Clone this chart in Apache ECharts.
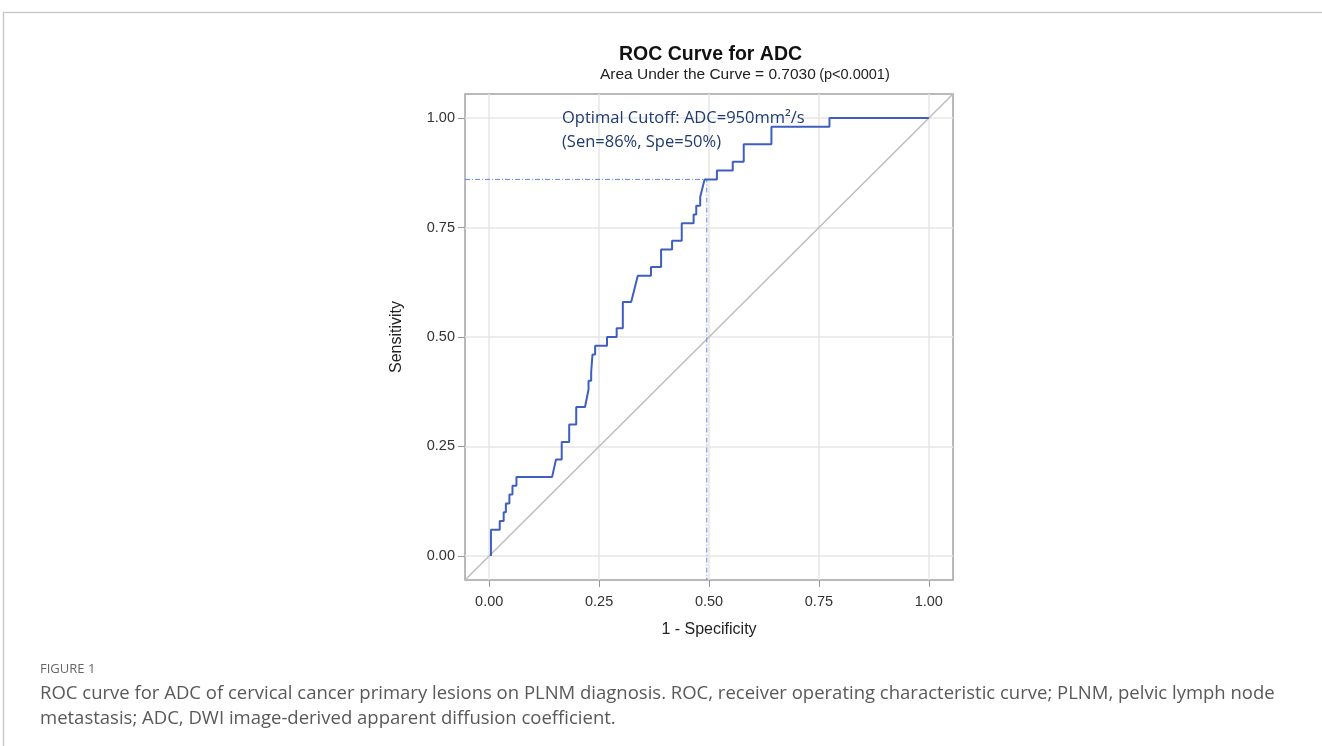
<!DOCTYPE html>
<html>
<head>
<meta charset="utf-8">
<script src="https://cdn.jsdelivr.net/npm/echarts@6/dist/echarts.min.js"></script>
<style>
  html, body { margin: 0; padding: 0; background: #fff; }
  #chart { width: 1322px; height: 746px; }
</style>
</head>
<body>
<div id="chart"></div>
<script>
// 坐标刻度
var tickValues = [0, 0.25, 0.5, 0.75, 1];
var axisMin = -0.055, axisMax = 1.055;

// ROC 曲线顶点 [1 - Specificity, Sensitivity]
var rocPoints = [
    [0.004, 0], [0.004, 0.06], [0.024, 0.06], [0.024, 0.08], [0.033, 0.08], [0.033, 0.10],
    [0.038, 0.10], [0.038, 0.12], [0.046, 0.12], [0.046, 0.14], [0.053, 0.14], [0.053, 0.16],
    [0.062, 0.16], [0.062, 0.18], [0.143, 0.18], [0.152, 0.22], [0.165, 0.22], [0.165, 0.26],
    [0.182, 0.26], [0.182, 0.30], [0.198, 0.30], [0.198, 0.34], [0.218, 0.34], [0.226, 0.38],
    [0.226, 0.40], [0.232, 0.40], [0.232, 0.42], [0.235, 0.42], [0.235, 0.46], [0.241, 0.46],
    [0.241, 0.48], [0.268, 0.48], [0.268, 0.50], [0.290, 0.50], [0.290, 0.52], [0.304, 0.52],
    [0.304, 0.58], [0.323, 0.58], [0.338, 0.64], [0.368, 0.64], [0.368, 0.66], [0.391, 0.66],
    [0.391, 0.70], [0.416, 0.70], [0.416, 0.72], [0.438, 0.72], [0.438, 0.76], [0.465, 0.76],
    [0.465, 0.78], [0.471, 0.78], [0.471, 0.80], [0.480, 0.80], [0.480, 0.82], [0.484, 0.82],
    [0.490, 0.86], [0.518, 0.86], [0.518, 0.88], [0.554, 0.88], [0.554, 0.90], [0.579, 0.90],
    [0.579, 0.94], [0.642, 0.94], [0.642, 0.98], [0.774, 0.98], [0.774, 1.00], [1.000, 1.00]
];

// 参考对角线
var diagonal = [[axisMin, axisMin], [axisMax, axisMax]];

// 最佳截断点
var cutoff = [0.495, 0.86];
var cutoffText = ['Optimal Cutoff: ADC=950mm²/s', '(Sen=86%, Spe=50%)'];

var titleText = 'ROC Curve for ADC';
var subText = 'Area Under the Curve = 0.7030';
var subTextP = '(p<0.0001)';
var captionHead = 'FIGURE 1';
var captionLines = [
    'ROC curve for ADC of cervical cancer primary lesions on PLNM diagnosis. ROC, receiver operating characteristic curve; PLNM, pelvic lymph node',
    'metastasis; ADC, DWI image-derived apparent diffusion coefficient.'
];

var font = 'Arial, "Liberation Sans", sans-serif';

function axisCommon(name) {
    return {
        type: 'value',
        min: axisMin,
        max: axisMax,
        name: name,
        nameLocation: 'middle',
        nameTextStyle: { fontFamily: font, fontSize: 16, color: '#222' },
        axisLine: { show: false, onZero: false },
        axisTick: { show: true, customValues: tickValues, length: 7, lineStyle: { color: '#999' } },
        axisLabel: {
            customValues: tickValues,
            fontFamily: font, fontSize: 14.5, color: '#333',
            formatter: function (v) { return v.toFixed(2); }
        },
        splitLine: { show: true, lineStyle: { color: '#e6e6e6', width: 1.5 } }
    };
}

var chart = echarts.init(document.getElementById('chart'));

var xAxis = axisCommon('1 - Specificity');
xAxis.nameGap = 42;
xAxis.axisLabel.margin = 14;
var yAxis = axisCommon('Sensitivity');
yAxis.nameGap = 60;
yAxis.axisLabel.margin = 10;

var option = {
    animation: false,
    backgroundColor: '#fff',
    grid: {
        left: 465, right: 369, top: 94, bottom: 166,
        show: true, borderColor: '#a3a3a3', borderWidth: 1.5
    },
    xAxis: xAxis,
    yAxis: yAxis,
    series: [
        {
            type: 'line',
            data: diagonal,
            symbol: 'none',
            lineStyle: { color: '#bdbdbd', width: 1.5 },
            z: 2
        },
        {
            type: 'line',
            data: [[axisMin, cutoff[1]], cutoff, [cutoff[0], axisMin]],
            symbol: 'none',
            lineStyle: { color: '#5f88d6', width: 1, type: [5, 2, 1, 2] },
            z: 3
        },
        {
            type: 'line',
            data: rocPoints,
            symbol: 'none',
            lineStyle: { color: '#3f5fc0', width: 2 },
            z: 4
        }
    ],
    graphic: [
        // 页面边框
        { type: 'line', shape: { x1: 3, y1: 12.5, x2: 1322, y2: 12.5 }, style: { stroke: '#c9c9c9', lineWidth: 1.5 } },
        { type: 'line', shape: { x1: 3.5, y1: 12, x2: 3.5, y2: 746 }, style: { stroke: '#c9c9c9', lineWidth: 1.5 } },
        // 标题
        {
            type: 'text', left: 619, top: 45, z: 100,
            style: { text: titleText, font: 'bold 19.5px ' + font, fill: '#111' }
        },
        {
            type: 'text', left: 600, top: 67, z: 100,
            style: {
                text: '{a|' + subText + '} {b|' + subTextP + '}',
                rich: {
                    a: { font: '15.5px ' + font, fill: '#222' },
                    b: { font: '14.5px ' + font, fill: '#222' }
                }
            }
        },
        // 截断点注释
        {
            type: 'text', left: 562, top: 106, z: 100,
            style: {
                text: cutoffText.join('\n'),
                font: '16.5px "Open Sans", sans-serif',
                lineHeight: 24,
                fill: '#1f3a70'
            }
        },
        // 图注
        {
            type: 'text', left: 40, top: 663,
            style: { text: captionHead, font: '13px "Open Sans", sans-serif', fill: '#666' }
        },
        {
            type: 'text', left: 40, top: 681,
            style: {
                text: captionLines.join('\n'),
                font: '18.5px "Open Sans", sans-serif',
                lineHeight: 25,
                fill: '#595959'
            }
        }
    ]
};

chart.setOption(option);
</script>
</body>
</html>
